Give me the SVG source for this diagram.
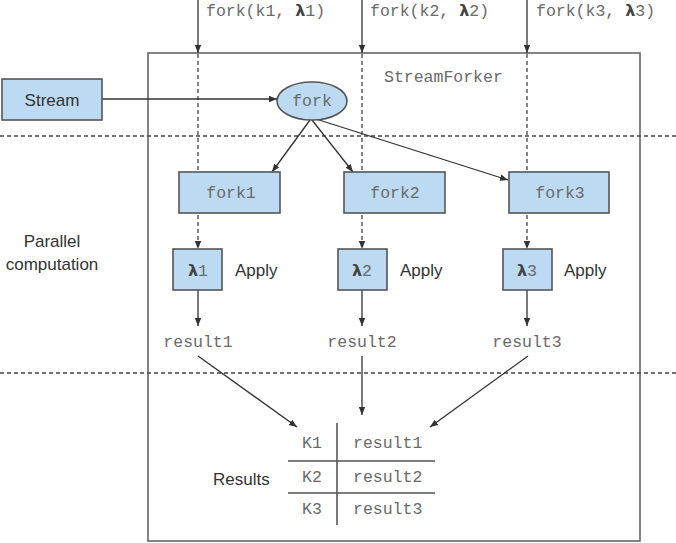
<svg xmlns="http://www.w3.org/2000/svg" width="676" height="543" viewBox="0 0 676 543">
<defs>
<marker id="ah" viewBox="0 0 10 10" refX="10" refY="5" markerWidth="8" markerHeight="8" markerUnits="userSpaceOnUse" orient="auto">
<path d="M0,1 L10,5 L0,9 z" fill="#333"/>
</marker>
<style>
.box{fill:#bcdaf2;stroke:#555;stroke-width:1.6}
.ln{stroke:#333;stroke-width:1.3;fill:none}
.dash{stroke:#444;stroke-width:1.3;stroke-dasharray:4 3;fill:none}
.mono{font-family:"Liberation Mono",monospace;font-size:16.5px;fill:#6a6a6a}
.sans{font-family:"Liberation Sans",Arial,sans-serif;font-size:17px;fill:#333}
.lam{font-family:"DejaVu Sans",sans-serif;font-weight:bold;font-size:16px;fill:#444}
</style>
</defs>
<rect width="676" height="543" fill="#fff"/>
<rect x="148" y="53" width="492" height="488" fill="none" stroke="#666" stroke-width="1.6"/>
<line class="dash" x1="0" y1="136" x2="676" y2="136"/>
<line class="dash" x1="0" y1="373" x2="676" y2="373"/>
<text class="mono" x="384" y="82">StreamForker</text>
<text class="sans" x="52" y="247" text-anchor="middle">Parallel</text>
<text class="sans" x="52" y="270" text-anchor="middle">computation</text>
<text class="mono" x="206" y="16">fork(k1, <tspan class="lam">λ</tspan>1)</text>
<text class="mono" x="370" y="16">fork(k2, <tspan class="lam">λ</tspan>2)</text>
<text class="mono" x="536" y="16">fork(k3, <tspan class="lam">λ</tspan>3)</text>
<g id="connectors">
<line class="ln" x1="198" y1="0" x2="198" y2="53" marker-end="url(#ah)"/>
<line class="ln" x1="362" y1="0" x2="362" y2="53" marker-end="url(#ah)"/>
<line class="ln" x1="527" y1="0" x2="527" y2="53" marker-end="url(#ah)"/>
<line class="dash" x1="198" y1="54" x2="198" y2="249" marker-end="url(#ah)"/>
<line class="dash" x1="362" y1="54" x2="362" y2="249" marker-end="url(#ah)"/>
<line class="dash" x1="527" y1="54" x2="527" y2="249" marker-end="url(#ah)"/>
<line class="ln" x1="102" y1="99" x2="277" y2="99" marker-end="url(#ah)"/>
<line class="ln" x1="310" y1="120" x2="272" y2="172" marker-end="url(#ah)"/>
<line class="ln" x1="312" y1="120" x2="353" y2="172" marker-end="url(#ah)"/>
<line class="ln" x1="316" y1="119" x2="508" y2="180" marker-end="url(#ah)"/>
<line class="ln" x1="198" y1="290" x2="198" y2="326" marker-end="url(#ah)"/>
<line class="ln" x1="362" y1="290" x2="362" y2="326" marker-end="url(#ah)"/>
<line class="ln" x1="527" y1="290" x2="527" y2="326" marker-end="url(#ah)"/>
<line class="ln" x1="198" y1="356" x2="297" y2="427" marker-end="url(#ah)"/>
<line class="ln" x1="362" y1="356" x2="362" y2="415" marker-end="url(#ah)"/>
<line class="ln" x1="528" y1="356" x2="430" y2="427" marker-end="url(#ah)"/>
</g>
<g id="stream"><rect class="box" x="2" y="79" width="100" height="41"/><text class="sans" x="52" y="106" text-anchor="middle">Stream</text></g>
<g id="fork"><ellipse class="box" cx="312" cy="101" rx="35" ry="19"/><text class="mono" x="312" y="106" text-anchor="middle">fork</text></g>
<g id="fork1"><rect class="box" x="179" y="172" width="101" height="41"/><text class="mono" x="231" y="198" text-anchor="middle">fork1</text></g>
<g id="fork2"><rect class="box" x="344" y="172" width="101" height="41"/><text class="mono" x="395" y="198" text-anchor="middle">fork2</text></g>
<g id="fork3"><rect class="box" x="509" y="172" width="100" height="41"/><text class="mono" x="560" y="198" text-anchor="middle">fork3</text></g>
<g id="lambda1"><rect class="box" x="173" y="249" width="49" height="41"/><text x="198" y="276" text-anchor="middle"><tspan class="lam">λ</tspan><tspan class="mono">1</tspan></text><text class="sans" x="235" y="276">Apply</text></g>
<g id="lambda2"><rect class="box" x="338" y="249" width="49" height="41"/><text x="362" y="276" text-anchor="middle"><tspan class="lam">λ</tspan><tspan class="mono">2</tspan></text><text class="sans" x="400" y="276">Apply</text></g>
<g id="lambda3"><rect class="box" x="503" y="249" width="49" height="41"/><text x="527" y="276" text-anchor="middle"><tspan class="lam">λ</tspan><tspan class="mono">3</tspan></text><text class="sans" x="564" y="276">Apply</text></g>
<g id="result1"><text class="mono" x="198" y="347" text-anchor="middle">result1</text></g>
<g id="result2"><text class="mono" x="362" y="347" text-anchor="middle">result2</text></g>
<g id="result3"><text class="mono" x="527" y="347" text-anchor="middle">result3</text></g>
<g id="results">
<line x1="337" y1="423" x2="337" y2="525" stroke="#555" stroke-width="1.6"/>
<line x1="288" y1="461" x2="435" y2="461" stroke="#555" stroke-width="1.6"/>
<line x1="288" y1="493" x2="435" y2="493" stroke="#555" stroke-width="1.6"/>
<text class="mono" x="312" y="448" text-anchor="middle">K1</text>
<text class="mono" x="312" y="482" text-anchor="middle">K2</text>
<text class="mono" x="312" y="514" text-anchor="middle">K3</text>
<text class="mono" x="353" y="448">result1</text>
<text class="mono" x="353" y="482">result2</text>
<text class="mono" x="353" y="514">result3</text>
<text class="sans" x="213" y="485">Results</text>
</g>
</svg>
